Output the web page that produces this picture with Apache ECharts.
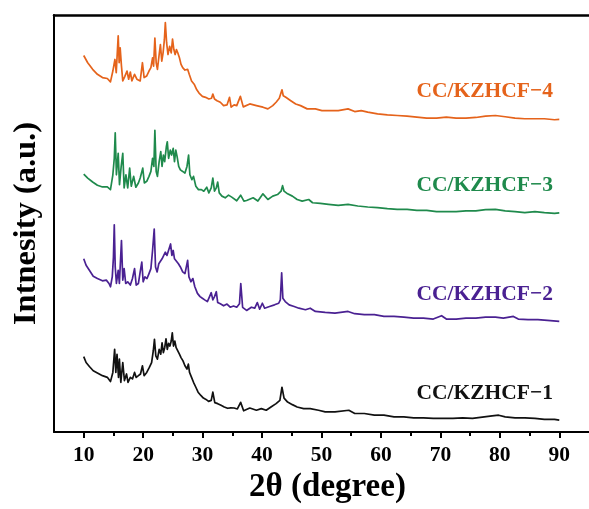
<!DOCTYPE html>
<html>
<head>
<meta charset="utf-8">
<script src="https://cdn.jsdelivr.net/npm/echarts@6/dist/echarts.min.js"></script>
<style>
  html, body { margin: 0; padding: 0; background: #ffffff; }
  #chart { width: 589px; height: 509px; }
</style>
</head>
<body>
<div id="chart"></div>
<script>
// Sample names, colours and vertical stacking offsets (a.u.)
const sampleNames = ['CC/KZHCF\u22121', 'CC/KZHCF\u22122', 'CC/KZHCF\u22123', 'CC/KZHCF\u22124'];
const sampleColors = ['#111111', '#4a2192', '#1f8a4c', '#e5631b'];
const stackOffsets = [0, 100, 210, 305];

// 2θ tick positions
const xTicks = [10, 20, 30, 40, 50, 60, 70, 80, 90];
const xMinorTicks = [15, 25, 35, 45, 55, 65, 75, 85];

// XRD patterns: [2θ (degree), intensity (a.u.)]
const pattern1 = [
  [10.0,76.3],[10.4,70.3],[10.95,66.3],[11.6,62],[12.3,59.7],[13.15,57],[13.97,55.3],[14.5,51],
  [14.9,60.3],[15.2,83.7],[15.4,60.3],[15.6,78.7],[15.85,55.3],[16.0,73.7],[16.24,50.3],[16.57,70.3],
  [16.85,52],[17.2,58.7],[17.45,50.3],[17.84,55.3],[18.2,53.7],[18.55,60.3],[18.83,55.3],[19.2,57],
  [19.55,58.7],[19.88,67],[20.16,57],[20.6,60.3],[21.04,65.3],[21.42,70.3],[21.7,82],[21.9,93.7],
  [22.13,77],[22.4,73.7],[22.69,83.7],[22.96,78.7],[23.18,90.3],[23.4,80.3],[23.62,85.3],[23.84,94.3],
  [24.06,83.7],[24.28,89.7],[24.5,87],[24.72,92],[24.9,100.3],[25.1,87],[25.33,92],[25.55,85.3],
  [25.82,83.7],[26.1,78.7],[26.37,75.3],[26.7,72],[27.03,67],[27.37,63.7],[27.6,68.7],[27.8,60.3],
  [28.14,55.3],[28.47,50.3],[28.86,45.3],[29.24,40.3],[29.7,37],[30.13,34.3],[30.57,33],[31.0,31],
  [31.45,32],[31.72,40.3],[32.05,29.7],[32.54,28.7],[33.1,27],[33.64,25.3],[34.2,24],[34.75,24.5],
  [35.3,24.3],[35.85,23.3],[36.4,30],[36.9,21.5],[37.94,24.3],[39.05,22],[39.88,23.7],[40.7,22],
  [41.5,25.3],[42.36,28.7],[43.0,32],[43.35,45.3],[43.7,34.3],[44.3,30.3],[45.1,27.7],[45.9,25.3],
  [47.0,23.7],[48.1,23.7],[49.5,22],[50.62,20.3],[52.27,20.3],[54.6,22],[55.6,18.7],[57.2,18.7],
  [58.9,17],[60.5,17],[62.2,15.3],[63.85,15.3],[65.5,14.3],[67.15,14.3],[68.8,13.7],[70.4,13.7],
  [72.1,13.7],[73.75,14.3],[75.4,13.7],[77.05,15],[78.7,16.3],[79.8,17],[80.9,15.3],[82.56,14.3],
  [84.2,14.3],[85.9,13.7],[87.5,12.7],[89.2,12.7],[90.0,12]
];

const pattern2 = [
  [10.0,75.3],[10.4,68.7],[10.95,63.7],[11.6,57.7],[12.3,55.3],[13.15,53],[13.8,53.7],[14.25,50.3],
  [14.5,47],[14.8,57],[15.0,77],[15.14,109.7],[15.3,67],[15.5,50.3],[15.8,63.7],[16.0,50.3],
  [16.35,93.7],[16.57,53.7],[16.8,65.3],[17.06,50.3],[17.4,52],[17.84,48.7],[18.2,55.3],[18.55,65.3],
  [18.83,48.7],[19.2,50.3],[19.5,62],[19.77,72],[20.0,52],[20.3,57],[20.65,55.3],[20.98,60.3],
  [21.3,65.3],[21.58,83.7],[21.86,105.3],[22.08,67],[22.35,62],[22.63,70.3],[22.9,68.7],[23.18,75.3],
  [23.46,73.7],[23.73,82],[24.0,78.7],[24.28,80.3],[24.61,90.3],[24.83,78.7],[25.05,83.7],[25.27,75.3],
  [25.6,77],[25.93,70.3],[26.26,67],[26.65,62],[27.03,60.3],[27.26,67],[27.48,73.7],[27.7,57],
  [28.03,52],[28.36,55.3],[28.69,47],[29.13,40.3],[29.57,37],[29.96,35.3],[30.35,33.7],[30.8,32],
  [31.17,37],[31.45,41],[31.72,33.7],[32.0,37],[32.3,42],[32.54,31],[32.98,29.7],[33.53,27.7],
  [34.1,29.5],[34.64,26.3],[35.2,27.5],[35.74,26.3],[36.2,29.7],[36.42,50.3],[36.73,26.2],[37.4,23],
  [38.2,26.3],[38.77,25.3],[39.2,31],[39.6,24.3],[40.05,30.3],[40.43,25.3],[41.26,27],[42.1,28.7],
  [42.8,30.3],[43.07,33.7],[43.3,61],[43.5,35.3],[43.9,32],[44.56,28.7],[45.4,27],[46.2,25.3],
  [47.3,23.7],[48.1,25.3],[48.97,22],[50.62,21],[52.27,20.3],[54.47,22],[55.58,19.7],[57.2,18.7],
  [58.9,18.7],[60.5,17],[62.2,17],[63.85,16.3],[65.5,15.3],[67.15,15.3],[68.8,14.3],[70.2,17.7],
  [71.0,14.3],[72.65,14.3],[74.3,15.3],[75.96,15.3],[77.6,16.3],[79.26,16.3],[80.6,15.3],[82.28,17],
  [83.1,14.3],[84.75,13.7],[86.4,13.7],[88.0,13],[90.0,12]
];

const pattern3 = [
  [10.0,51],[10.67,47],[11.5,43],[12.3,39.7],[13.15,38],[13.97,38],[14.5,35.3],[14.9,50.3],
  [15.14,67],[15.3,92.7],[15.5,50.3],[15.8,72],[16.02,40.3],[16.3,58.7],[16.57,72],[16.8,37],
  [17.1,50.3],[17.4,37],[17.73,57],[18.0,38.7],[18.4,48.7],[18.77,37.7],[19.2,42],[19.5,47],
  [19.93,57],[20.2,42],[20.6,43.7],[20.98,48.7],[21.3,53.7],[21.58,67],[21.8,58.7],[21.97,95.3],
  [22.19,53.7],[22.4,48.7],[22.69,63.7],[22.96,73.7],[23.18,58.7],[23.4,70.3],[23.62,63.7],[23.9,78.7],
  [24.06,83.7],[24.28,67],[24.56,75.3],[24.78,70.3],[25.05,77],[25.27,63.7],[25.49,75.3],[25.71,68.7],
  [25.98,58.7],[26.26,55.3],[26.65,53.7],[27.03,52],[27.37,58.7],[27.64,70.3],[27.86,50.3],[28.2,45.3],
  [28.47,48.7],[28.86,38.7],[29.3,35.3],[29.8,35.3],[30.2,33.7],[30.7,37.7],[31.05,32],[31.45,37],
  [31.72,47],[32.0,33.7],[32.3,37],[32.54,43],[32.8,32],[33.25,28.7],[33.8,27],[34.36,29.7],
  [34.9,27.7],[35.2,27],[35.74,24],[36.4,29.7],[36.95,23.7],[37.4,24.3],[38.5,27],[39.3,23.7],
  [40.15,31],[40.98,25.3],[41.8,28.7],[42.6,30.3],[43.2,33.7],[43.45,39.3],[43.7,33.7],[44.3,31],
  [45.1,28.7],[45.9,25.3],[46.75,23.7],[47.85,25.3],[48.5,22],[49.8,21.3],[51.17,20.3],[52.82,19.3],
  [54.47,20.3],[56.1,18.7],[57.78,17.7],[59.43,17],[61.08,16],[62.74,15.3],[64.4,15.3],[66.04,14.3],
  [67.7,14.3],[69.35,13],[71.0,13],[72.65,13],[74.3,13.7],[75.96,13.7],[77.6,15],[79.26,15.3],
  [80.9,13.7],[82.56,13],[84.2,12],[85.9,13],[87.5,12],[89.2,11.3],[90.0,11.7]
];

const pattern4 = [
  [10.0,76],[10.67,68.7],[11.5,62],[12.3,57],[13.15,53.7],[13.97,52.7],[14.5,49.3],[14.9,60.3],
  [15.25,72],[15.47,58.7],[15.8,96],[15.96,68.7],[16.13,83.7],[16.35,65.3],[16.57,50.3],[16.9,54.7],
  [17.28,60.3],[17.56,52],[17.84,59.3],[18.1,50.3],[18.55,57],[18.94,52],[19.5,50.3],[19.88,68.7],
  [20.16,53.7],[20.6,55.3],[20.98,60.3],[21.3,63.7],[21.58,73.7],[21.75,65.3],[21.97,93.7],[22.19,68.7],
  [22.4,62],[22.69,77],[22.9,87],[23.13,70.3],[23.35,78.7],[23.57,92],[23.73,109.3],[23.95,88.7],
  [24.17,77],[24.45,85.3],[24.72,78.7],[24.94,92.7],[25.16,82],[25.38,77],[25.6,82],[25.82,78.7],
  [26.1,73.7],[26.37,67],[26.65,63.7],[27.03,61.3],[27.48,62],[27.75,57],[28.14,50.3],[28.58,47],
  [29.02,41.3],[29.4,38],[29.96,34.7],[30.5,33.7],[31.05,32],[31.5,32.7],[31.72,37],[32.0,32],
  [32.43,30.3],[32.98,28.7],[33.53,25.3],[34.1,26],[34.53,33.7],[34.8,23.7],[35.3,26],[35.74,25.3],
  [36.35,34.7],[36.84,24],[37.94,27],[39.05,25.3],[40.15,23.7],[40.98,22],[41.8,25.3],[42.36,28.7],
  [42.9,32.7],[43.35,41.3],[43.57,35.3],[44.0,33.7],[44.83,30.3],[45.66,27],[46.48,25.3],[47.59,22],
  [48.97,22],[50.07,20.3],[51.17,20.3],[52.82,20.3],[54.47,22],[55.58,19.3],[56.68,20.3],[57.78,18.7],
  [59.43,17],[61.08,16],[62.74,15.3],[64.39,14.7],[66.04,13.7],[67.69,12.7],[69.35,12.7],[71.0,13.7],
  [72.65,12.7],[74.3,12.7],[75.96,13.3],[77.6,14.7],[79.26,15.3],[80.9,14],[82.56,12.7],[84.2,12],
  [85.9,12],[87.5,12],[89.2,11],[90.0,11.3]
];

const patterns = [pattern1, pattern2, pattern3, pattern4];

const chart = echarts.init(document.getElementById('chart'), null, { renderer: 'canvas' });

const serif = '"Liberation Serif", "Times New Roman", serif';

const series = patterns.map((pts, i) => ({
  name: sampleNames[i],
  type: 'line',
  xAxisIndex: 0,
  yAxisIndex: 0,
  showSymbol: false,
  symbol: 'none',
  smooth: false,
  silent: true,
  animation: false,
  lineStyle: { color: sampleColors[i], width: 1.7, join: 'round' },
  itemStyle: { color: sampleColors[i] },
  data: pts.map(p => [p[0], p[1] + stackOffsets[i]])
}));

// Sample labels placed to the right of each trace
const labelTops = [394, 295, 186, 92];
const graphics = sampleNames.map((name, i) => ({
  type: 'text',
  right: 36,
  top: labelTops[i] - 12,
  style: {
    text: name,
    fill: sampleColors[i],
    font: 'bold 21.5px ' + serif
  }
}));

chart.setOption({
  backgroundColor: '#ffffff',
  animation: false,
  grid: { left: 54, top: 15, width: 544.5, height: 422, containLabel: false },
  xAxis: [
    {
      type: 'value', position: 'bottom', min: 5, max: 95,
      name: '2\u03b8 (degree)', nameLocation: 'middle', nameGap: 39,
      nameTextStyle: { fontFamily: serif, fontWeight: 'bold', fontSize: 33, color: '#000', padding: [0, 0, 0, 12] },
      axisLine: { show: true, onZero: false, lineStyle: { color: '#000', width: 2 } },
      axisTick: { show: true, inside: false, length: 6, customValues: xTicks, lineStyle: { color: '#000', width: 2 } },
      axisLabel: { show: true, customValues: xTicks, margin: 12, fontFamily: serif, fontWeight: 'bold', fontSize: 21.5, color: '#000' },
      splitLine: { show: false }
    },
    {
      type: 'value', position: 'bottom', min: 5, max: 95, offset: 0,
      axisLine: { show: false, onZero: false },
      axisTick: { show: true, inside: false, length: 4, customValues: xMinorTicks, lineStyle: { color: '#000', width: 2 } },
      axisLabel: { show: false },
      splitLine: { show: false }
    },
    {
      type: 'value', position: 'top', min: 5, max: 95,
      axisLine: { show: true, onZero: false, lineStyle: { color: '#000', width: 2.5 } },
      axisTick: { show: false },
      axisLabel: { show: false },
      splitLine: { show: false }
    }
  ],
  yAxis: {
    type: 'value', min: 0, max: 422,
    name: 'Intnesity (a.u.)', nameLocation: 'middle', nameGap: 11, nameRotate: 90,
    nameTextStyle: { fontFamily: serif, fontWeight: 'bold', fontSize: 32.5, color: '#000' },
    axisLine: { show: true, onZero: false, lineStyle: { color: '#000', width: 2 } },
    axisTick: { show: false },
    axisLabel: { show: false },
    splitLine: { show: false }
  },
  graphic: graphics,
  series: series
});
</script>
</body>
</html>
